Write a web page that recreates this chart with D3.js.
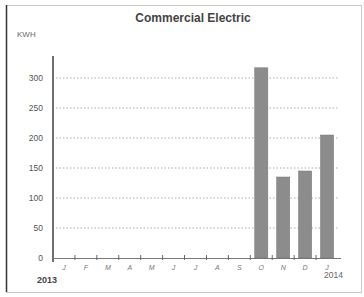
<!DOCTYPE html>
<html>
<head>
<meta charset="utf-8">
<script src="https://cdn.jsdelivr.net/npm/d3@7"></script>
<style>
  body { margin: 0; background: #fff; }
  svg { display: block; font-family: Arial, "Liberation Sans", sans-serif; }
</style>
</head>
<body>
<div class="wrapper"></div>
<script>
// chart data
var months = ["J", "F", "M", "A", "M", "J", "J", "A", "S", "O", "N", "D", "J"];
var monthKeys = ["Jan13", "Feb", "Mar", "Apr", "May", "Jun", "Jul", "Aug", "Sep", "Oct", "Nov", "Dec", "Jan14"];
var kwh = [0, 0, 0, 0, 0, 0, 0, 0, 0, 317, 135, 145, 205];
var yTicks = [0, 50, 100, 150, 200, 250, 300];
var yTickLabels = ["0", "50", "100", "150", "200", "250", "300"];

var W = 364, H = 297;
var svg = d3.select(".wrapper").append("svg")
    .attr("width", W)
    .attr("height", H);

// outer frame
svg.append("rect")
    .attr("x", 6.5).attr("y", 5.5)
    .attr("width", 355).attr("height", 287)
    .attr("fill", "none")
    .attr("stroke", "#c8c8c8")
    .attr("stroke-width", 1);
svg.append("line")
    .attr("x1", 6.5).attr("x2", 6.5)
    .attr("y1", 5).attr("y2", 292)
    .attr("stroke", "#333").attr("stroke-width", 1.5);

var x = d3.scaleBand()
    .domain(monthKeys)
    .range([53, 338])
    .paddingInner(0.4)
    .paddingOuter(0.2);

var y = d3.scaleLinear()
    .domain([0, 300])
    .range([258, 78]);

// title
svg.append("text")
    .attr("x", 193).attr("y", 22)
    .attr("text-anchor", "middle")
    .style("font-size", "12px")
    .style("font-weight", "bold")
    .style("fill", "#444")
    .text("Commercial Electric");

svg.append("text")
    .attr("x", 17).attr("y", 37)
    .style("font-size", "8px")
    .style("fill", "#666")
    .text("KWH");

// gridlines
svg.append("g")
    .selectAll("line")
    .data(yTicks.slice(1))
    .enter().append("line")
    .attr("x1", 56).attr("x2", 338)
    .attr("y1", function(d) { return y(d); })
    .attr("y2", function(d) { return y(d); })
    .attr("stroke", "#aaa")
    .attr("stroke-width", 1)
    .attr("stroke-dasharray", "1.5,2");

// y axis labels
svg.append("g")
    .selectAll("text")
    .data(yTicks)
    .enter().append("text")
    .attr("x", 43)
    .attr("y", function(d) { return y(d) + 3; })
    .attr("text-anchor", "end")
    .style("font-size", "8.5px")
    .style("fill", "#555")
    .text(function(d, i) { return yTickLabels[i]; });

// bars
svg.append("g")
    .selectAll("rect")
    .data(kwh)
    .enter().append("rect")
    .attr("x", function(d, i) { return x(monthKeys[i]); })
    .attr("y", function(d) { return y(d); })
    .attr("width", x.bandwidth())
    .attr("height", function(d) { return y(0) - y(d); })
    .attr("fill", "#8c8c8c")
    .attr("stroke", "#777")
    .attr("stroke-width", 0.5);

// y axis line
svg.append("line")
    .attr("x1", 53).attr("x2", 53)
    .attr("y1", 56).attr("y2", 262)
    .attr("stroke", "#222").attr("stroke-width", 1.3);

// x axis
var step = x.step();
var xAxis = d3.axisBottom(x)
    .tickSize(0)
    .tickFormat(function(d, i) { return months[i]; });
var gx = svg.append("g")
    .attr("transform", "translate(0," + y(0) + ")")
    .call(xAxis);
gx.select(".domain").attr("stroke", "#777").attr("d", "M53,0.5H341");
gx.selectAll("text")
    .attr("dy", "9px")
    .style("font-size", "7px")
    .style("font-style", "italic")
    .style("fill", "#777");

// ticks between months
gx.append("g")
    .selectAll("line")
    .data(monthKeys.slice(1))
    .enter().append("line")
    .attr("x1", function(d) { return x(d) - (step - x.bandwidth()) / 2; })
    .attr("x2", function(d) { return x(d) - (step - x.bandwidth()) / 2; })
    .attr("y1", -3).attr("y2", 2)
    .attr("stroke", "#666");

svg.append("text")
    .attr("x", 37).attr("y", 283)
    .style("font-size", "9px")
    .style("font-weight", "bold")
    .style("fill", "#444")
    .text("2013");

svg.append("text")
    .attr("x", 324).attr("y", 278)
    .style("font-size", "8.5px")
    .style("fill", "#666")
    .text("2014");
</script>
</body>
</html>
